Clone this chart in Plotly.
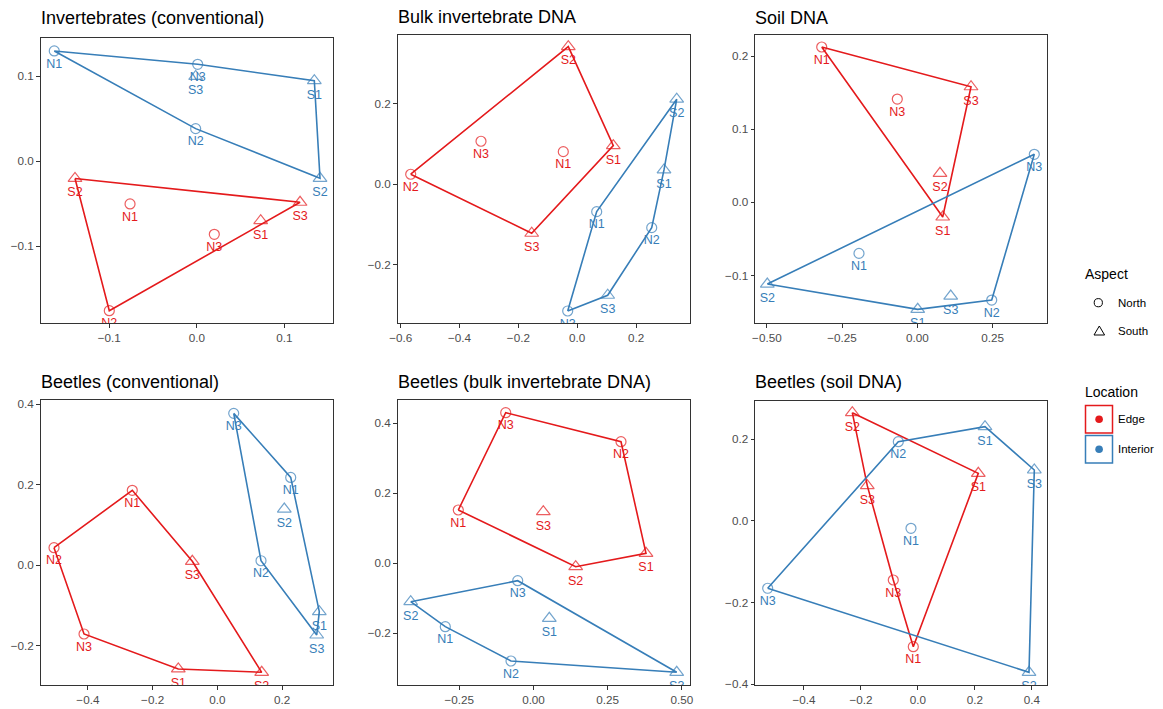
import plotly.graph_objects as go

W, H = 1163, 709
RED = "#E41A1C"
BLUE = "#377EB8"
FONT = "Liberation Sans, Arial, sans-serif"

# ---------------- data (ordination scores) ----------------
titles = ["Invertebrates (conventional)", "Bulk invertebrate DNA", "Soil DNA",
          "Beetles (conventional)", "Beetles (bulk invertebrate DNA)", "Beetles (soil DNA)"]

all_labels = ["N1", "N2", "N3", "S1", "S2", "S3"]
soil_edge_labels = ["N1", "N3", "S1", "S2", "S3"]

# Panel 1: Invertebrates (conventional)
p1_edge_x = [-0.0763, -0.1000, 0.0200, 0.0730, -0.1392, 0.1180]
p1_edge_y = [-0.0502, -0.1758, -0.0859, -0.0699, -0.0202, -0.0482]
p1_int_x = [-0.1629, -0.0013, 0.0010, 0.1343, 0.1408, -0.0013]
p1_int_y = [0.1298, 0.0384, 0.1141, 0.0948, -0.0200, 0.0998]

# Panel 2: Bulk invertebrate DNA
p2_edge_x = [-0.0473, -0.5661, -0.3271, 0.1227, -0.0303, -0.1547]
p2_edge_y = [0.0808, 0.0248, 0.1066, 0.0957, 0.3412, -0.1215]
p2_int_x = [0.0663, 0.2533, -0.0323, 0.2951, 0.3383, 0.1037]
p2_int_y = [-0.0679, -0.1076, -0.3142, 0.0355, 0.2108, -0.2752]

# Panel 3: Soil DNA (edge N2 absent)
p3_edge_x = [-0.3177, -0.0665, 0.0844, 0.0754, 0.1785]
p3_edge_y = [0.2125, 0.1413, -0.0201, 0.0397, 0.1581]
p3_int_x = [-0.1938, 0.2473, 0.3888, 0.0013, -0.4985, 0.1110]
p3_int_y = [-0.0698, -0.1337, 0.0657, -0.1464, -0.1118, -0.1282]

# Panel 4: Beetles (conventional)
p4_edge_x = [-0.2628, -0.5048, -0.4120, -0.1206, 0.1372, -0.0773]
p4_edge_y = [0.1860, 0.0437, -0.1703, -0.2570, -0.2653, 0.0099]
p4_int_x = [0.2269, 0.1351, 0.0507, 0.3153, 0.2071, 0.3073]
p4_int_y = [0.2180, 0.0114, 0.3769, -0.1150, 0.1396, -0.1728]

# Panel 5: Beetles (bulk invertebrate DNA)
p5_edge_x = [-0.2533, 0.2947, -0.0936, 0.3789, 0.1421, 0.0330]
p5_edge_y = [0.1520, 0.3471, 0.4300, 0.0283, -0.0100, 0.1471]
p5_int_x = [-0.2971, -0.0758, -0.0532, 0.0532, -0.4136, 0.4823]
p5_int_y = [-0.1814, -0.2794, -0.0500, -0.1574, -0.1100, -0.3117]

# Panel 6: Beetles (soil DNA) (edge N2 absent)
p6_edge_x = [-0.0165, -0.0867, 0.2116, -0.2305, -0.1779]
p6_edge_y = [-0.3079, -0.1445, 0.1168, 0.2652, 0.0865]
p6_int_x = [-0.0246, -0.0691, -0.5274, 0.2351, 0.3895, 0.4081]
p6_int_y = [-0.0179, 0.1942, -0.1648, 0.2310, -0.3706, 0.1249]

# ---------------- layout geometry (pixels) ----------------
panels = [
    dict(edge=(all_labels, p1_edge_x, p1_edge_y), inter=(all_labels, p1_int_x, p1_int_y),
         dom_x=(40.7, 332.7), dom_y=(38.3, 323.3), xr=(-0.1784, 0.1553), yr=(-0.1906, 0.1447),
         dx=0.1, dy=0.1, fx=".1f", fy=".1f", ty=18),
    dict(edge=(all_labels, p2_edge_x, p2_edge_y), inter=(all_labels, p2_int_x, p2_int_y),
         dom_x=(397.7, 690), dom_y=(35, 323), xr=(-0.6103, 0.3835), yr=(-0.344, 0.370),
         dx=0.2, dy=0.2, fx=".1f", fy=".1f", ty=17),
    dict(edge=(soil_edge_labels, p3_edge_x, p3_edge_y), inter=(all_labels, p3_int_x, p3_int_y),
         dom_x=(755, 1046.7), dom_y=(35, 323), xr=(-0.5394, 0.43), yr=(-0.1651, 0.2289),
         dx=0.25, dy=0.1, fx=".2f", fy=".1f", ty=18),
    dict(edge=(all_labels, p4_edge_x, p4_edge_y), inter=(all_labels, p4_int_x, p4_int_y),
         dom_x=(40.7, 332.7), dom_y=(400, 685), xr=(-0.5459, 0.3567), yr=(-0.2968, 0.41),
         dx=0.2, dy=0.2, fx=".1f", fy=".1f", ty=382),
    dict(edge=(all_labels, p5_edge_x, p5_edge_y), inter=(all_labels, p5_int_x, p5_int_y),
         dom_x=(397.7, 690), dom_y=(400, 685), xr=(-0.4574, 0.5271), yr=(-0.348, 0.4663),
         dx=0.25, dy=0.2, fx=".2f", fy=".1f", ty=382),
    dict(edge=(soil_edge_labels, p6_edge_x, p6_edge_y), inter=(all_labels, p6_int_x, p6_int_y),
         dom_x=(755, 1046.7), dom_y=(400.5, 685), xr=(-0.5719, 0.4516), yr=(-0.4017, 0.2951),
         dx=0.2, dy=0.2, fx=".1f", fy=".1f", ty=382),
]


def fx(px):
    return px / W


def fy(py):
    return 1 - py / H


def hull(xs, ys):
    pts = sorted(set(zip(xs, ys)))
    if len(pts) < 3:
        return pts

    def cross(o, a, b):
        return (a[0] - o[0]) * (b[1] - o[1]) - (a[1] - o[1]) * (b[0] - o[0])

    lower = []
    for p in pts:
        while len(lower) >= 2 and cross(lower[-2], lower[-1], p) <= 0:
            lower.pop()
        lower.append(p)
    upper = []
    for p in reversed(pts):
        while len(upper) >= 2 and cross(upper[-2], upper[-1], p) <= 0:
            upper.pop()
        upper.append(p)
    return lower[:-1] + upper[:-1]


fig = go.Figure()
annotations = []


def text_ann(text, px, py, size):
    return dict(text=text, x=fx(px), y=fy(py), xref="paper", yref="paper",
                xanchor="left", yanchor="middle", xshift=-2, showarrow=False,
                font=dict(size=size, color="#000000", family=FONT))


for i, p in enumerate(panels, start=1):
    xa = "x" if i == 1 else f"x{i}"
    ya = "y" if i == 1 else f"y{i}"
    for key, col in (("edge", RED), ("inter", BLUE)):
        labels, xs, ys = p[key]
        h = hull(xs, ys)
        hx = [q[0] for q in h] + [h[0][0]]
        hy = [q[1] for q in h] + [h[0][1]]
        fig.add_trace(go.Scatter(x=hx, y=hy, xaxis=xa, yaxis=ya, mode="lines",
                                 line=dict(color=col, width=1.6), hoverinfo="skip",
                                 showlegend=False))
        symbols = ["circle-open" if l.startswith("N") else "triangle-up-open" for l in labels]
        sizes = [10 if l.startswith("N") else 12 for l in labels]
        fig.add_trace(go.Scatter(x=xs, y=ys, xaxis=xa, yaxis=ya, mode="markers+text",
                                 text=labels, textposition="bottom center",
                                 textfont=dict(color=col, size=12.5, family=FONT),
                                 marker=dict(symbol=symbols, size=sizes, color=col,
                                             line=dict(color=col, width=1.2)),
                                 cliponaxis=True, showlegend=False))
    axis_common = dict(showline=True, mirror=True, linecolor="#333333", linewidth=1,
                       ticks="outside", ticklen=3.5, tickwidth=1, tickcolor="#333333",
                       showgrid=False, zeroline=False, tick0=0, automargin=False,
                       tickfont=dict(size=11.7, color="#4D4D4D", family=FONT))
    fig.layout[f"xaxis{'' if i == 1 else i}"] = dict(
        axis_common, domain=[fx(p["dom_x"][0]), fx(p["dom_x"][1])], range=list(p["xr"]),
        dtick=p["dx"], tickformat=p["fx"], anchor=ya)
    fig.layout[f"yaxis{'' if i == 1 else i}"] = dict(
        axis_common, domain=[fy(p["dom_y"][1]), fy(p["dom_y"][0])], range=list(p["yr"]),
        dtick=p["dy"], tickformat=p["fy"], anchor=xa)
    annotations.append(text_ann(titles[i - 1], p["dom_x"][0], p["ty"], 18))

# ---------------- legend (drawn manually) ----------------
shapes = []
annotations.append(text_ann("Aspect", 1085, 274, 14))
shapes.append(dict(type="circle", xref="paper", yref="paper",
                   x0=fx(1094.2), x1=fx(1102.4), y0=fy(306.8), y1=fy(298.6),
                   line=dict(color="#000000", width=1)))
annotations.append(text_ann("North", 1118, 302.7, 11.5))
tri = f"M {fx(1094)} {fy(335)} L {fx(1104.6)} {fy(335)} L {fx(1099.3)} {fy(326)} Z"
shapes.append(dict(type="path", xref="paper", yref="paper", path=tri,
                   line=dict(color="#000000", width=1)))
annotations.append(text_ann("South", 1118, 331, 11.5))
annotations.append(text_ann("Location", 1085, 392, 14))
for (top, col, name) in ((405.5, RED, "Edge"), (435.5, BLUE, "Interior")):
    shapes.append(dict(type="rect", xref="paper", yref="paper",
                       x0=fx(1085.5), x1=fx(1112.5), y0=fy(top + 27.5), y1=fy(top),
                       line=dict(color=col, width=1.5)))
    cy = top + 13.8
    shapes.append(dict(type="circle", xref="paper", yref="paper",
                       x0=fx(1095.3), x1=fx(1102.9), y0=fy(cy + 3.8), y1=fy(cy - 3.8),
                       fillcolor=col, line=dict(color=col, width=0)))
    annotations.append(text_ann(name, 1118, cy, 11.5))

fig.update_layout(template="none", width=W, height=H,
                  margin=dict(l=0, r=0, t=0, b=0, pad=0, autoexpand=False),
                  paper_bgcolor="white", plot_bgcolor="white",
                  annotations=annotations, shapes=shapes, showlegend=False,
                  font=dict(family=FONT))

fig.write_html("out.html", config={"displayModeBar": False},
               post_script="document.body.style.margin='0';document.body.style.overflow='hidden';")
